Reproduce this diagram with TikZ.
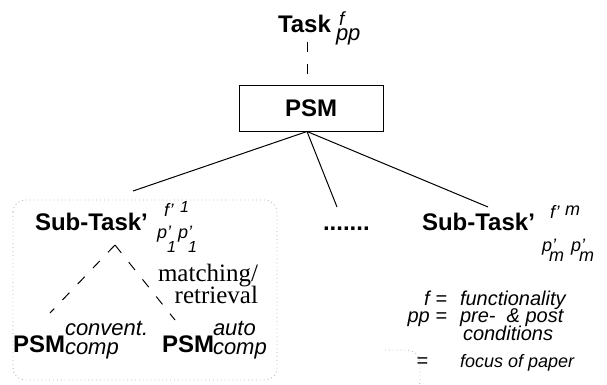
\documentclass[tikz,border=0pt]{standalone}
\usepackage{fontspec}
\setmainfont{Liberation Sans}
\newfontfamily\serifface{Liberation Serif}
\tikzset{
  lbl/.style={inner sep=0pt, outer sep=0pt, anchor=base west},
  lble/.style={inner sep=0pt, outer sep=0pt, anchor=base east},
  bigb/.style={font=\fontsize{24}{26}\selectfont\bfseries},
  scr/.style={font=\fontsize{#1}{#1}\selectfont\itshape},
  serifl/.style={font=\fontsize{25}{27}\selectfont\serifface},
  conn/.style={line width=1pt},
  dashconn/.style={line width=1pt, dash pattern=on 10pt off 12pt},
  dotbox/.style={draw=gray!55, line width=0.9pt, dash pattern=on 0.9pt off 3pt, rounded corners=12pt}
}
\begin{document}
\begin{tikzpicture}[x=1pt,y=-1pt]
\useasboundingbox (0,0) rectangle (607,385);
% dotted focus box
\draw[dotbox] (13,200) rectangle (277,380);
% top
\node[draw, conn, minimum width=144pt, minimum height=45pt, inner sep=0pt, bigb] (psm) at (311,108.5) {PSM};
\node[lbl,bigb] (task) at (278,33) {Task};
\node[lbl,scr=19] (taskf) at (339,26) {f};
\node[lbl,scr=22] (taskpp) at (336,41) {pp};
\coordinate (taskfoot) at (307,42);
\draw[dashconn] (taskfoot) -- (taskfoot |- psm.north);
\coordinate (apex) at (psm.south -| taskfoot);
\coordinate (s1top) at (133,191);
\coordinate (dtop) at (337,207);
\coordinate (smtop) at (488,207);
\draw[conn] (apex) -- (s1top);
\draw[conn] (apex) -- (dtop);
\draw[conn] (apex) -- (smtop);
% left sub-task
\node[lbl,bigb] (st1) at (35,230) {Sub-Task’};
\node[lbl,scr=18] (st1f) at (164,216) {f’};
\node[lbl,scr=16] (st1fi) at (180,212) {1};
\node[lbl,scr=18] (st1p) at (157,238) {p’};
\node[lbl,scr=16] (st1pi) at (167,252) {1};
\node[lbl,scr=18] (st1q) at (178,238) {p’};
\node[lbl,scr=16] (st1qi) at (188,252) {1};
% dots
\node[lbl,bigb] (dots) at (323,230) {.......};
% right sub-task
\node[lbl,bigb] (stm) at (422,230) {Sub-Task’};
\node[lbl,scr=18] (stmf) at (550,218) {f’};
\node[lbl,scr=18] (stmfi) at (565,215) {m};
\node[lbl,scr=18] (stmp) at (542,251) {p’};
\node[lbl,scr=18] (stmpi) at (549,261) {m};
\node[lbl,scr=18] (stmq) at (571,251) {p’};
\node[lbl,scr=18] (stmqi) at (579,261) {m};
% lower PSMs
\coordinate (stfoot) at (115,245);
\coordinate (convtop) at (50,313);
\coordinate (autotop) at (175,320);
\draw[dashconn] (stfoot) -- (convtop);
\draw[dashconn] (stfoot) -- (autotop);
\node[lble,serifl] (match) at (258,281) {matching/};
\node[lble,serifl] (retr) at (258,303) {retrieval};
\node[lbl,bigb] (psmc) at (13,352) {PSM};
\node[lbl,scr=22] (psmcs) at (65,335) {convent.};
\node[lbl,scr=22] (psmcb) at (65,354) {comp};
\node[lbl,bigb] (psma) at (162,352) {PSM};
\node[lbl,scr=22] (psmas) at (213,335) {auto};
\node[lbl,scr=22] (psmab) at (213,354) {comp};
% legend
\node[lble,scr=20] (lf) at (447,305) {f =};
\node[lbl,scr=20] (lfv) at (460,305) {functionality};
\node[lble,scr=20] (lpp) at (447,322) {pp =};
\node[lbl,scr=20] (lppv) at (460,322) {pre-\ \ \& post};
\node[lbl,scr=20] (lppv2) at (463,340) {conditions};
\node[lble,scr=20] (leq) at (428,367) {=};
\node[lbl,scr=18] (lfoc) at (460,367) {focus of paper};
\begin{scope}
\clip (0,0) rectangle (607,385);
\draw[dotbox, rounded corners=13pt] (385,350) -- (420,350) -- (420,395) -- (385,395);
\end{scope}
\end{tikzpicture}
\end{document}
